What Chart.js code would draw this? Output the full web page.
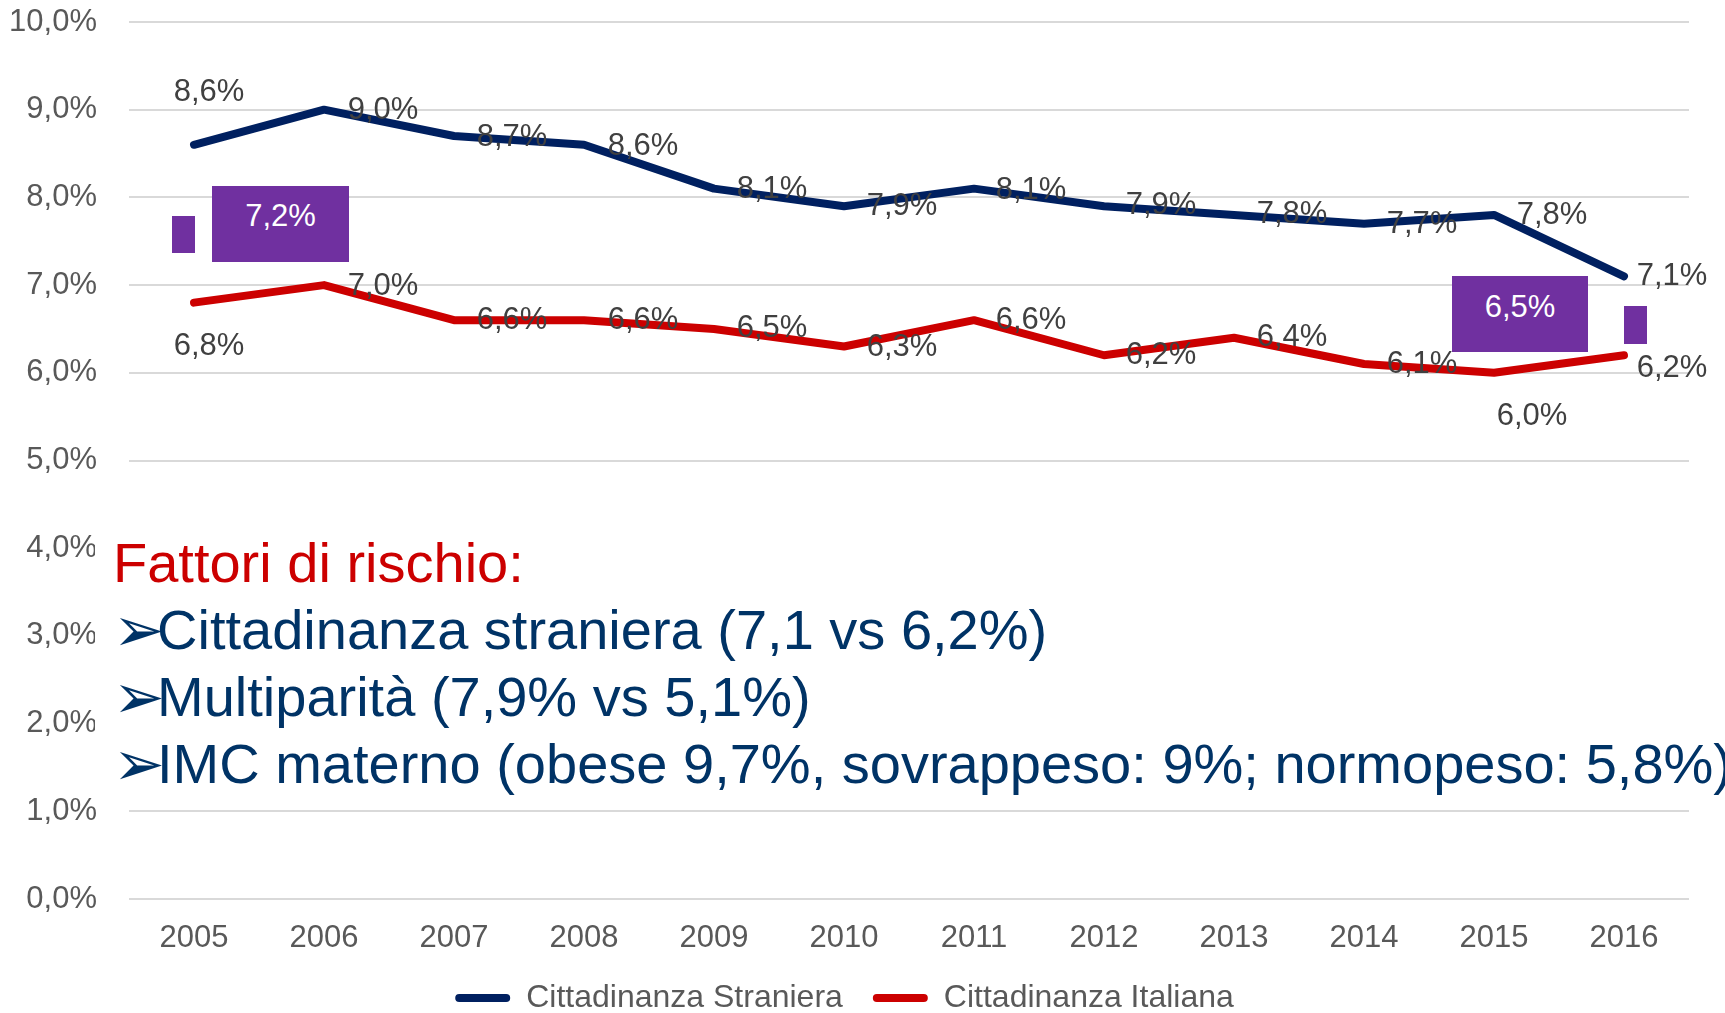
<!DOCTYPE html>
<html>
<head>
<meta charset="utf-8">
<script src="https://cdn.jsdelivr.net/npm/chart.js@4.4.1/dist/chart.umd.min.js"></script>
<style>
  html, body { margin: 0; padding: 0; background: #fff; overflow: hidden; }
  #wrap { position: relative; width: 1725px; height: 1024px; }
  .note {
    position: absolute; left: 95px; top: 506px; width: 1630px; height: 291px;
    background: #fff; box-sizing: border-box; padding: 23px 0 0 18px;
    font-family: 'Liberation Sans', Arial, sans-serif; font-size: 56px; line-height: 67px;
    color: #003366; white-space: nowrap;
  }
  .note .head { color: #CC0000; }
  .note .arr { display: inline-block; width: 44px; font-family: 'DejaVu Sans', sans-serif; font-size: 62px; line-height: 0; vertical-align: -2px; }
  .box {
    position: absolute; background: #7030A0; color: #fff; text-align: center;
    font-family: 'Liberation Sans', Arial, sans-serif; font-size: 31px; line-height: 36px;
  }
</style>
</head>
<body>
<div id="wrap">
  <canvas id="chart"></canvas>
  <div class="box" style="left:172px; top:216px; width:23px; height:37px;"></div>
  <div class="box" style="left:212px; top:186px; width:137px; height:76px; padding-top:12px; box-sizing:border-box;">7,2%</div>
  <div class="box" style="left:1452px; top:276px; width:136px; height:76px; padding-top:13px; box-sizing:border-box;">6,5%</div>
  <div class="box" style="left:1624px; top:306px; width:23px; height:38px;"></div>
  <div class="note">
    <div class="head">Fattori di rischio:</div>
    <div><span class="arr">➢</span>Cittadinanza straniera (7,1 vs 6,2%)</div>
    <div><span class="arr">➢</span>Multiparità (7,9% vs 5,1%)</div>
    <div><span class="arr">➢</span>IMC materno (obese 9,7%, sovrappeso: 9%; normopeso: 5,8%)</div>
  </div>
</div>
<script>
// dati (percentuali)
const years = ['2005', '2006', '2007', '2008', '2009', '2010', '2011', '2012', '2013', '2014', '2015', '2016'];
const straniera = [8.6, 9.0, 8.7, 8.6, 8.1, 7.9, 8.1, 7.9, 7.8, 7.7, 7.8, 7.1];
const italiana = [6.8, 7.0, 6.6, 6.6, 6.5, 6.3, 6.6, 6.2, 6.4, 6.1, 6.0, 6.2];
const yMin = 0, yMax = 10, yStep = 1;

// posizione delle etichette rispetto al punto (px)
const offStraniera = [[15, -52], [59, 1], [58, 1], [59, 2], [58, 1], [58, 0], [57, 2], [57, -1], [58, 0], [58, 1], [58, 1], [48, 0]];
const offItaliana = [[15, 44], [59, 1], [58, 0], [59, 0], [58, 0], [58, 1], [57, 0], [57, 0], [58, 0], [58, 0], [38, 44], [48, 13]];

const fmt = v => v.toFixed(1).replace('.', ',') + '%';
const FONT = "'Liberation Sans', Arial, sans-serif";

Chart.defaults.font.family = FONT;

const valueLabels = {
  id: 'valueLabels',
  afterDatasetsDraw(chart) {
    const ctx = chart.ctx;
    ctx.save();
    ctx.font = '31px ' + FONT;
    ctx.fillStyle = '#404040';
    ctx.textAlign = 'center';
    ctx.textBaseline = 'middle';
    chart.data.datasets.forEach((ds, di) => {
      chart.getDatasetMeta(di).data.forEach((pt, i) => {
        const off = ds.labelOffsets[i];
        ctx.fillText(fmt(ds.data[i]), pt.x + off[0], pt.y + off[1]);
      });
    });
    ctx.restore();
  }
};

new Chart(document.getElementById('chart'), {
  type: 'line',
  data: {
    labels: years,
    datasets: [{
      label: 'Cittadinanza Straniera',
      data: straniera,
      borderColor: '#002060',
      backgroundColor: '#002060',
      borderWidth: 8,
      pointRadius: 0,
      borderCapStyle: 'round',
      borderJoinStyle: 'round',
      labelOffsets: offStraniera
    }, {
      label: 'Cittadinanza Italiana',
      data: italiana,
      borderColor: '#CC0000',
      backgroundColor: '#CC0000',
      borderWidth: 8,
      pointRadius: 0,
      borderCapStyle: 'round',
      borderJoinStyle: 'round',
      labelOffsets: offItaliana
    }]
  },
  options: {
    responsive: true,
    maintainAspectRatio: false,
    animation: false,
    layout: { padding: { left: 0, right: 36, top: 22, bottom: 0 } },
    plugins: {
      tooltip: { enabled: false },
      legend: {
        position: 'bottom',
        labels: {
          font: { size: 32 },
          color: '#595959',
          boxWidth: 55,
          boxHeight: 8,
          padding: 30,
          generateLabels(chart) {
            return chart.data.datasets.map((ds, i) => ({
              text: ds.label,
              fillStyle: ds.borderColor,
              strokeStyle: ds.borderColor,
              lineWidth: 0,
              borderRadius: 4,
              fontColor: '#595959',
              datasetIndex: i
            }));
          }
        }
      }
    },
    scales: {
      x: {
        offset: true,
        grid: { display: false, drawTicks: false },
        border: { display: false },
        ticks: { color: '#595959', font: { size: 31 }, padding: 21, maxRotation: 0 },
        afterFit(scale) { scale.height = 53; }
      },
      y: {
        min: yMin,
        max: yMax,
        grid: { color: '#D9D9D9', lineWidth: 2, drawTicks: false },
        border: { display: false },
        ticks: { stepSize: yStep, color: '#595959', font: { size: 31 }, padding: 32, callback: v => fmt(v) },
        afterFit(scale) {
          scale.width = 129;
          scale.paddingTop = 0;
          scale.paddingBottom = 0;
        }
      }
    }
  },
  plugins: [valueLabels]
});
</script>
</body>
</html>
